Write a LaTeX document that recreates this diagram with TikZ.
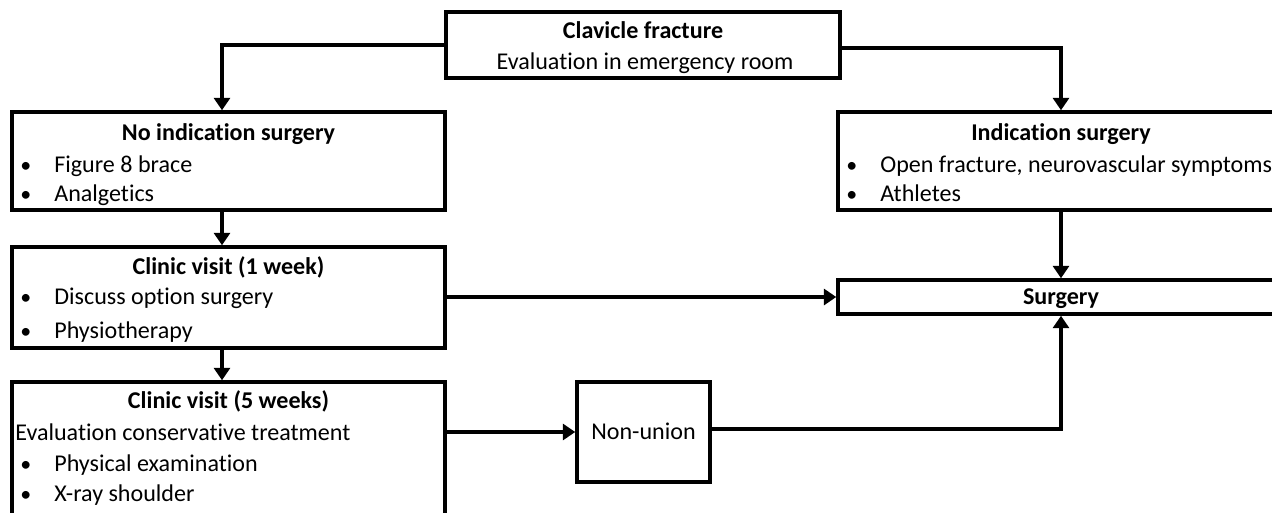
\documentclass[tikz,border=0pt]{standalone}
\usepackage{fontspec}
\setmainfont{Carlito}[Ligatures=NoCommon]
\usetikzlibrary{arrows.meta,positioning,calc}

\newcommand{\bodyfont}{\fontsize{13.7}{16}\selectfont}
\tikzset{
  box/.style={draw, line width=2pt, inner sep=0pt},
  txt/.style={inner sep=0pt, text height=1.6ex, text depth=.4ex, anchor=west, yshift=-0.04cm, font=\bodyfont},
  dot/.style={inner sep=0pt, text height=1.6ex, text depth=.4ex, anchor=west, yshift=-0.04cm, font=\fontsize{12.5}{14}\selectfont},
  head/.style={inner sep=0pt, text height=1.6ex, text depth=.4ex, yshift=-0.04cm, font=\bodyfont\bfseries},
  flow/.style={line width=2pt, -{Triangle[width=9pt,length=7pt]}}
}

\begin{document}
\begin{tikzpicture}[x=0.02cm, y=-0.02cm]
  \useasboundingbox (0,0) rectangle (1272,512);
  \clip (0,0) rectangle (1272,512);
  % Boxes
  \node[box, minimum width=7.88cm, minimum height=1.32cm] (top) at (643,45) {};
  \node[box, minimum width=8.66cm, minimum height=1.96cm] (noind) at (228.5,161) {};
  \node[box, minimum width=8.92cm, minimum height=1.96cm] (ind) at (1061,161) {};
  \node[box, minimum width=8.66cm, minimum height=2.02cm] (visit1) at (228.5,297.5) {};
  \node[box, minimum width=8.92cm, minimum height=0.68cm] (surg) at (1061,297) {};
  \node[box, minimum width=8.66cm, minimum height=3.12cm] (visit5) at (228.5,460) {};
  \node[box, minimum width=2.66cm, minimum height=2.00cm] (nonunion) at (643.5,432) {};
  % Texts
  \node[head] (topA) at (643,31) {Clavicle fracture};
  \node[txt, anchor=center] (topB) at (645,62) {Evaluation in emergency room};
  \node[head] (noindT) at (228.5,133) {No indication surgery};
  \node[dot] (noindB1) at (20,165) {•};
  \node[txt] (noindL1) at (54,165) {Figure 8 brace};
  \node[dot] (noindB2) at (20,194) {•};
  \node[txt] (noindL2) at (54,194) {Analgetics};
  \node[head] (indT) at (1061,133) {Indication surgery};
  \node[dot] (indB1) at (846,165) {•};
  \node[txt] (indL1) at (880,165) {Open fracture, neurovascular symptoms};
  \node[dot] (indB2) at (846,194) {•};
  \node[txt] (indL2) at (880,194) {Athletes};
  \node[head] (visit1T) at (228.5,267) {Clinic visit (1 week)};
  \node[dot] (visit1B1) at (20,297) {•};
  \node[txt] (visit1L1) at (54,297) {Discuss option surgery};
  \node[dot] (visit1B2) at (20,331) {•};
  \node[txt] (visit1L2) at (54,331) {Physiotherapy};
  \node[head] (surgT) at (1061,297) {Surgery};
  \node[head] (visit5T) at (228.5,401) {Clinic visit (5 weeks)};
  \node[txt] (visit5L0) at (15,433) {Evaluation conservative treatment};
  \node[dot] (visit5B1) at (20,464) {•};
  \node[txt] (visit5L1) at (54,464) {Physical examination};
  \node[dot] (visit5B2) at (20,494) {•};
  \node[txt] (visit5L2) at (54,494) {X-ray shoulder};
  \node[txt, anchor=center] (nonunionT) at (643.5,432) {Non-union};
  % Arrows
  \draw[flow] (top.west) -| ([xshift=-0.13cm]noind.north);
  \draw[flow] ([yshift=-0.06cm]top.east) -| (ind.north);
  \draw[flow] ([xshift=-0.13cm]noind.south) -- ([xshift=-0.13cm]visit1.north);
  \draw[flow] ([xshift=-0.13cm]visit1.south) -- ([xshift=-0.13cm]visit5.north);
  \draw[flow] (ind.south) -- (surg.north);
  \draw[flow] (visit1.east |- surg.west) -- (surg.west);
  \draw[flow] (visit5.east |- nonunion.west) -- (nonunion.west);
  \draw[flow] ([yshift=0.06cm]nonunion.east) -| (surg.south);
\end{tikzpicture}
\end{document}
